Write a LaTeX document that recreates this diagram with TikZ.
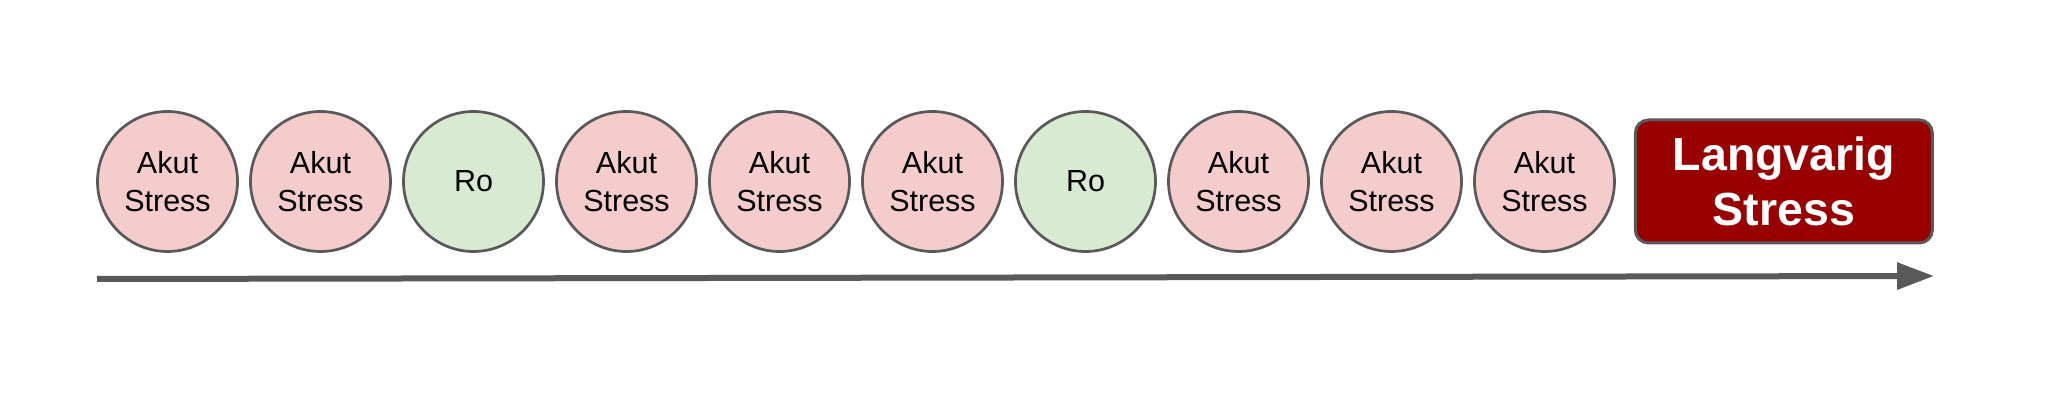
\documentclass[tikz,border=0pt]{standalone}
\usepackage{fontspec}
\setmainfont{Liberation Sans}
\usetikzlibrary{positioning,arrows.meta}
\definecolor{akutfill}{HTML}{F4CCCC}
\definecolor{rofill}{HTML}{D9EAD3}
\definecolor{rim}{HTML}{595959}
\definecolor{langfill}{HTML}{990000}
\begin{document}
\begin{tikzpicture}[x=1pt,y=1pt,
  state/.style={circle,draw=rim,line width=2.7pt,minimum size=140pt,inner sep=0pt,
    align=center,font=\fontsize{30.5}{38}\selectfont},
  akut/.style={state,fill=akutfill},
  ro/.style={state,fill=rofill},
  lang/.style={rectangle,rounded corners=13pt,draw=rim,line width=3pt,fill=langfill,
    text=white,minimum width=297pt,minimum height=123pt,inner sep=0pt,align=center,
    font=\fontsize{46.5}{55}\selectfont\bfseries}]
  \useasboundingbox (0,0) rectangle (2053,412);
  \matrix (m) at (856,230.5) [inner sep=0pt,column sep={153pt,between origins}]
  {
    \node[akut] (a) {Akut\\Stress}; & \node[akut] (b) {Akut\\Stress}; & \node[ro] (c) {Ro}; &
    \node[akut] (d) {Akut\\Stress}; & \node[akut] (e) {Akut\\Stress}; & \node[akut] (f) {Akut\\Stress}; &
    \node[ro] (g) {Ro}; & \node[akut] (h) {Akut\\Stress}; & \node[akut] (i) {Akut\\Stress}; &
    \node[akut] (j) {Akut\\Stress}; \\
  };
  \node[lang,right=18pt of j] (k) {Langvarig\\Stress};
  \coordinate (start) at (97,133);
  \coordinate (end) at (1934,136);
  \draw [-{Triangle[length=37pt,width=26pt]},line width=6pt,rim] (start) -- (end);
\end{tikzpicture}
\end{document}
